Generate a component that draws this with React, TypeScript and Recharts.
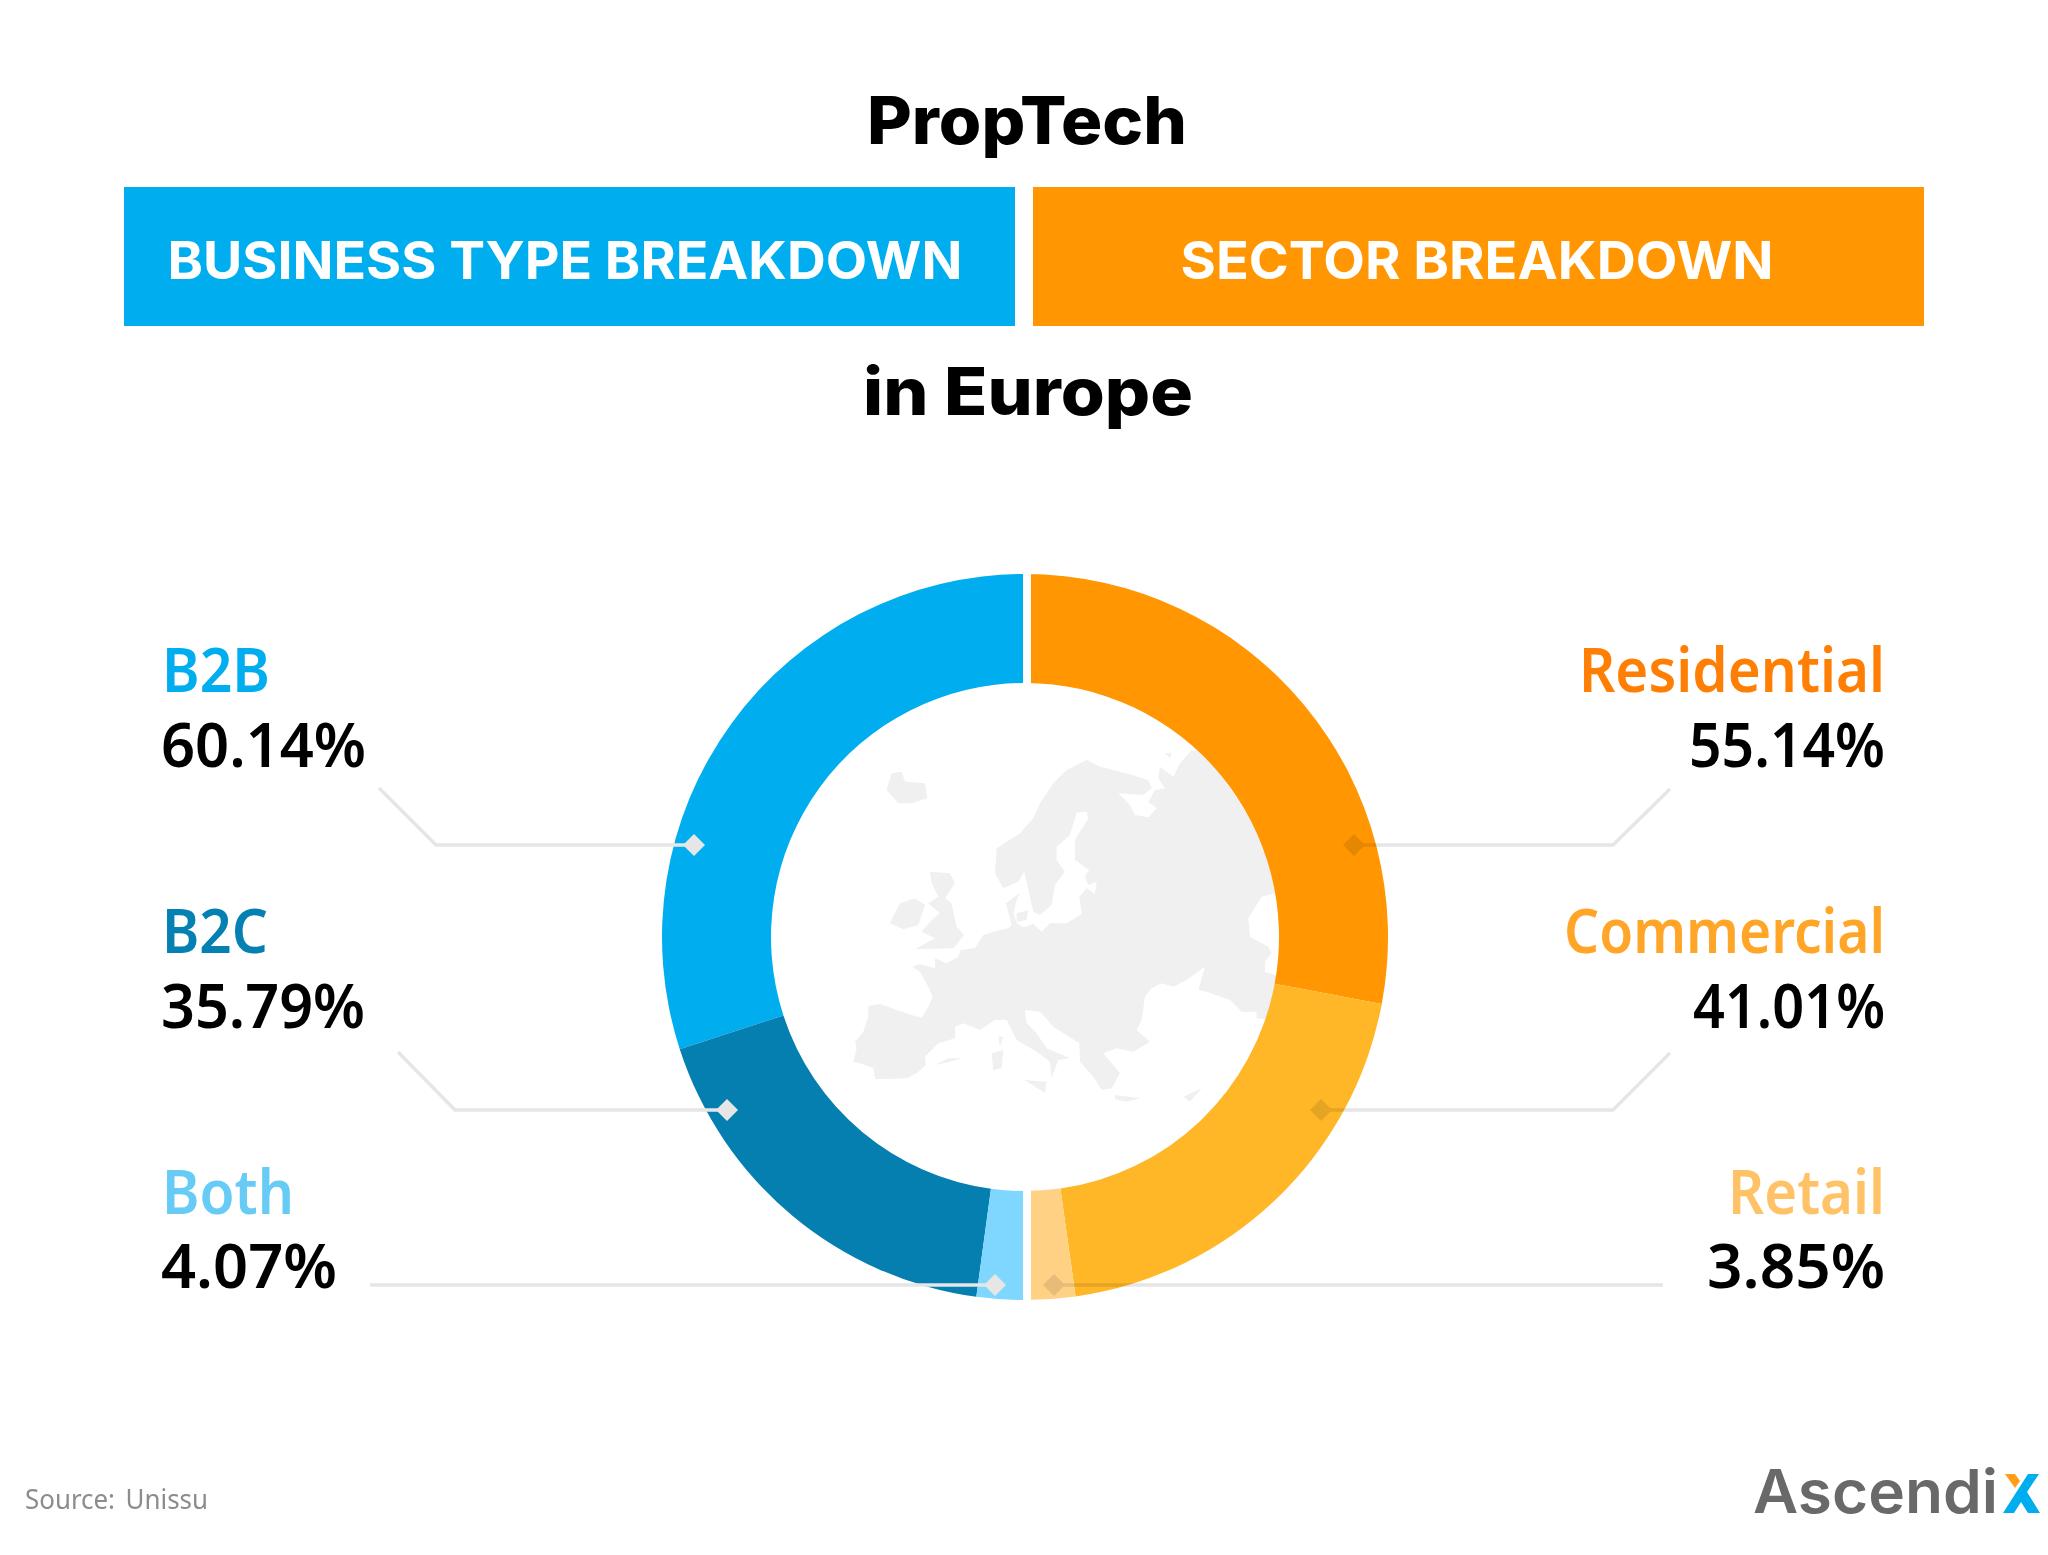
import { PieChart, Pie, Cell } from 'recharts';

const businessNames = ['B2B', 'B2C', 'Both'];
const businessValues = [60.14, 35.79, 4.07];
// the slices in the picture do not quite follow the printed figures, so these are read off the arcs
const businessArcs = [60.0, 35.72, 4.28];
const businessColors = ['#00AEEF', '#057EB0', '#7FD7FF'];
const businessLabelColors = ['#00AEEF', '#0580B2', '#66CCF5'];

const sectorNames = ['Residential', 'Commercial', 'Retail'];
const sectorValues = [55.14, 41.01, 3.85];
const sectorArcs = [55.9, 39.65, 4.45];
const sectorColors = ['#FF9602', '#FFB627', '#FFD185'];
const sectorLabelColors = ['#FF7F05', '#FFA629', '#FFC266'];

const businessData = businessNames.map((name, i) => ({ name, value: businessArcs[i] }));
const sectorData = sectorNames.map((name, i) => ({ name, value: sectorArcs[i] }));

const WIDTH = 2048;
const HEIGHT = 1555;
const CX = 1025;
const CY = 937;

const LABEL_Y = [692, 953, 1214];
const VALUE_Y = [767, 1028, 1288];
const BUSINESS_LABEL_W = [108, 106, 132];
const BUSINESS_VALUE_W = [205, 204, 176];
const SECTOR_LABEL_W = [306, 321, 157];
const SECTOR_VALUE_W = [196, 192, 178];

const LEFT_LEADERS = [
  { points: '379,788 436,845 685,845', x: 694, y: 845 },
  { points: '398,1052 455,1110 718,1110', x: 727, y: 1110 },
  { points: '370,1285 987,1285', x: 995, y: 1285 },
];
const RIGHT_LEADERS = [
  { points: '1670,789 1613,845 1363,845', x: 1354, y: 845 },
  { points: '1670,1053 1613,1110 1330,1110', x: 1321, y: 1110 },
  { points: '1663,1285 1062,1285', x: 1054, y: 1285 },
];

// traced silhouette of Europe, in 3x crop coordinates of the reference
const MAP_SHAPES = [
  '40,965 50,925 45,905 70,875 85,830 85,798 120,792 165,808 215,825 245,833 265,800 278,770 262,735 240,695 217,680 240,672 285,685 285,655 320,670 355,650 362,630 405,625 430,585 470,573 505,565 515,555 498,490 540,458 530,480 520,520 530,550 550,562 580,552 605,575 630,550 680,550 725,522 718,470 740,445 765,462 770,425 745,435 735,410 750,385 800,355 850,362 815,375 760,395 735,382 705,360 705,300 745,235 740,215 710,218 690,285 650,320 650,360 675,395 645,435 635,495 600,525 580,515 565,450 553,395 535,425 490,445 465,400 470,325 540,280 580,235 600,190 640,130 680,90 740,60 780,80 860,100 925,120 935,145 910,165 835,160 870,195 885,225 925,232 950,205 925,185 945,150 975,145 955,115 960,80 1000,110 1020,70 1055,30 1100,40 1340,400 1330,460 1305,460 1265,470 1225,535 1230,590 1285,620 1295,640 1275,665 1275,695 1320,710 1320,840 1250,835 1250,815 1205,815 1170,780 1100,755 1075,750 1095,680 1040,720 1000,740 965,730 935,745 915,770 905,840 890,870 930,905 880,935 830,925 790,940 840,1000 815,1045 785,1050 760,1010 720,965 718,910 640,860 600,815 555,810 560,850 590,880 620,925 690,955 655,960 635,1015 630,965 590,935 530,900 500,840 465,840 420,870 370,850 345,860 345,895 295,910 255,950 258,975 230,1000 200,1015 105,1018 100,985 60,970',
  '140,150 155,100 185,95 195,125 255,130 262,175 215,190 175,190',
  '150,550 180,490 225,475 255,495 235,555 190,568',
  '270,395 330,400 345,430 315,475 335,490 350,560 372,585 340,625 225,628 285,595 245,575 270,545 300,520 265,490 295,470 275,430',
  '455,940 490,930 485,985 460,990',
  '475,890 490,890 480,920',
  '553,1020 620,1025 615,1058',
  '825,1065 900,1075 860,1085 825,1078',
  '1030,1070 1085,1045 1050,1085',
  '285,975 325,955 365,955 330,965',
  '530,520 565,510 560,540 530,545',
  '975,40 995,40 990,55',
];

const layer = { position: 'absolute', left: 0, top: 0 } as const;
const labelFont = '"Noto Sans", sans-serif';
const titleFont = 'Inter, sans-serif';

function Diamond({ x, y }: { x: number; y: number }) {
  return <polygon points={`${x - 11},${y} ${x},${y - 11} ${x + 11},${y} ${x},${y + 11}`} fill="#E6E6E6" />;
}

function Stretched(props: any) {
  return <text lengthAdjust="spacingAndGlyphs" {...props} />;
}

export default function App() {
  return (
    <div style={{ position: 'absolute', left: 0, top: 0, width: WIDTH, height: HEIGHT, background: '#fff', overflow: 'hidden' }}>
      <svg width={WIDTH} height={HEIGHT} style={layer}>
        <g transform="translate(840,740) scale(0.3333)" fill="#F0F0F0">
          {MAP_SHAPES.map((points, i) => (
            <polygon key={i} points={points} />
          ))}
        </g>
      </svg>

      <div style={layer}>
        <PieChart width={WIDTH} height={HEIGHT} margin={{ top: 0, right: 0, bottom: 0, left: 0 }}>
          <Pie
            data={businessData}
            dataKey="value"
            cx={CX}
            cy={CY}
            innerRadius={254}
            outerRadius={363}
            startAngle={90}
            endAngle={270}
            stroke="none"
            isAnimationActive={false}
          >
            {businessData.map((d, i) => (
              <Cell key={d.name} fill={businessColors[i]} />
            ))}
          </Pie>
          <Pie
            data={sectorData}
            dataKey="value"
            cx={CX}
            cy={CY}
            innerRadius={254}
            outerRadius={363}
            startAngle={90}
            endAngle={-90}
            stroke="none"
            isAnimationActive={false}
          >
            {sectorData.map((d, i) => (
              <Cell key={d.name} fill={sectorColors[i]} />
            ))}
          </Pie>
        </PieChart>
      </div>

      <svg width={WIDTH} height={HEIGHT} style={{ ...layer, mixBlendMode: 'multiply' }}>
        {RIGHT_LEADERS.map((l, i) => (
          <g key={i}>
            <polyline points={l.points} fill="none" stroke="#E6E6E6" strokeWidth={3.5} />
            <Diamond x={l.x} y={l.y} />
          </g>
        ))}
      </svg>

      <svg width={WIDTH} height={HEIGHT} style={layer}>
        {/* white gap between the two halves, only across the ring */}
        <rect x={1023} y={565} width={8} height={119} fill="#fff" />
        <rect x={1023} y={1190} width={8} height={118} fill="#fff" />

        {LEFT_LEADERS.map((l, i) => (
          <g key={i}>
            <polyline points={l.points} fill="none" stroke="#E6E6E6" strokeWidth={3.5} />
            <Diamond x={l.x} y={l.y} />
          </g>
        ))}

        <Stretched x={1027} y={144} textAnchor="middle" textLength={320} fontFamily={titleFont} fontWeight={800} fontSize={66} fill="#000">PropTech</Stretched>
        <rect x={124} y={187} width={891} height={139} fill="#00AEEF" />
        <rect x={1033} y={187} width={891} height={139} fill="#FF9602" />
        <Stretched x={565} y={279} textAnchor="middle" textLength={795} fontFamily={titleFont} fontWeight={700} fontSize={52} fill="#fff">BUSINESS TYPE BREAKDOWN</Stretched>
        <Stretched x={1477} y={279} textAnchor="middle" textLength={593} fontFamily={titleFont} fontWeight={700} fontSize={52} fill="#fff">SECTOR BREAKDOWN</Stretched>
        <Stretched x={1028} y={415} textAnchor="middle" textLength={330} fontFamily={titleFont} fontWeight={800} fontSize={66} fill="#000">in Europe</Stretched>

        {businessNames.map((name, i) => (
          <g key={name} fontFamily={labelFont} fontWeight={600} fontSize={61}>
            <Stretched x={162} y={LABEL_Y[i]} textLength={BUSINESS_LABEL_W[i]} fill={businessLabelColors[i]}>{name}</Stretched>
            <Stretched x={161} y={VALUE_Y[i]} textLength={BUSINESS_VALUE_W[i]} fill="#000">{businessValues[i].toFixed(2)}%</Stretched>
          </g>
        ))}
        {sectorNames.map((name, i) => (
          <g key={name} fontFamily={labelFont} fontWeight={600} fontSize={61} textAnchor="end">
            <Stretched x={1885} y={LABEL_Y[i]} textLength={SECTOR_LABEL_W[i]} fill={sectorLabelColors[i]}>{name}</Stretched>
            <Stretched x={1885} y={VALUE_Y[i]} textLength={SECTOR_VALUE_W[i]} fill="#000">{sectorValues[i].toFixed(2)}%</Stretched>
          </g>
        ))}

        <Stretched x={25} y={1509} textLength={183} fontFamily={labelFont} fontSize={27} fill="#8C8C8C" wordSpacing={4}>Source: Unissu</Stretched>

        <Stretched x={1753} y={1513} textLength={245} fontFamily={titleFont} fontWeight={600} fontSize={60} fill="#696969">Ascendi</Stretched>
        <polygon points="2005,1474 2015,1474 2020,1481 2015,1488" fill="#FF9E1B" />
        <polygon points="2028,1474 2039,1474 2027,1492 2040,1513 2028,1513 2021,1502 2014,1513 2003,1513" fill="#00AEEF" />
      </svg>
    </div>
  );
}
